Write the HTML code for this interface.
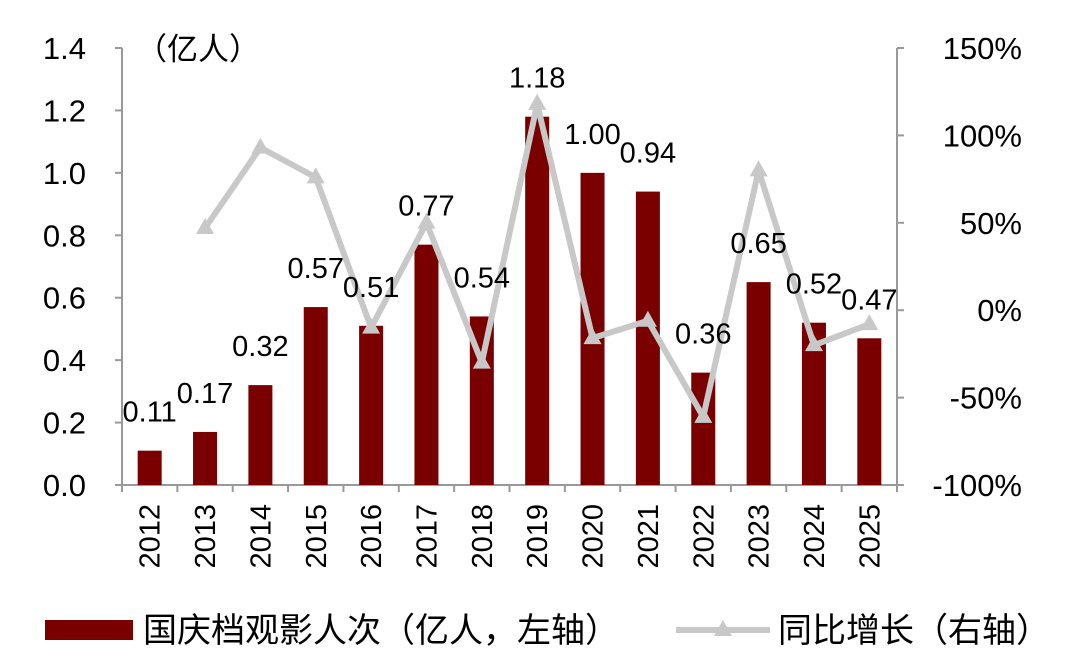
<!DOCTYPE html>
<html><head><meta charset="utf-8">
<style>
html,body{margin:0;padding:0;background:#fff;}
svg{display:block;font-family:"Liberation Sans","Noto Sans CJK SC",sans-serif;}
</style></head>
<body>
<svg id="chart" width="1080" height="668" viewBox="0 0 1080 668">
<text x="136" y="60" font-size="31" fill="#000">（亿人）</text>
<g id="axes"></g>
<g id="bars"></g>
<g id="line"></g>
<g id="labels"></g>
<g>
  <rect x="45" y="620" width="88" height="20" fill="#7a0000"></rect>
  <text x="143" y="642" font-size="34">国庆档观影人次（亿人，左轴）</text>
  <line x1="676" y1="630" x2="770" y2="630" stroke="#c8c8c8" stroke-width="6"></line>
  <polygon points="723,620 732,636 714,636" fill="#c8c8c8"></polygon>
  <text x="778" y="642" font-size="34">同比增长（右轴）</text>
</g>
</svg>
<script>
const categories=["2012","2013","2014","2015","2016","2017","2018","2019","2020","2021","2022","2023","2024","2025"];
const admissions=[0.11,0.17,0.32,0.57,0.51,0.77,0.54,1.18,1.00,0.94,0.36,0.65,0.52,0.47];
const growth=[null,47,93,76,-10,50,-30,118,-16,-6,-61,80,-20,-8];
const leftTicks=["0.0","0.2","0.4","0.6","0.8","1.0","1.2","1.4"];
const rightTicks=["-100%","-50%","0%","50%","100%","150%"];
const NS="http://www.w3.org/2000/svg";
const X0=122,X1=897,Y0=485,Y1=48;
const step=(X1-X0)/categories.length;
const xc=i=>X0+step*(i+0.5);
const yL=v=>Y0-(v/1.4)*(Y0-Y1);
const yR=v=>Y0-((v+100)/250)*(Y0-Y1);
function mk(tag,attrs,parent,text){const e=document.createElementNS(NS,tag);for(const k in attrs)e.setAttribute(k,attrs[k]);if(text!==undefined)e.textContent=text;document.getElementById(parent).appendChild(e);return e;}
const ax="axes",gc="#999";
let e;
e=mk("line",{x1:X0,y1:Y1,x2:X0,y2:Y0,stroke:gc,"stroke-width":2},ax);


e=mk("line",{x1:X1,y1:Y1,x2:X1,y2:Y0,stroke:gc,"stroke-width":2},ax);


e=mk("line",{x1:X0,y1:Y0,x2:X1,y2:Y0,stroke:gc,"stroke-width":2},ax);


leftTicks.forEach((t,i)=>{const y=yL(i*0.2);
 mk("line",{x1:X0-7,y1:y,x2:X0,y2:y,stroke:gc,"stroke-width":2},ax);
 e=mk("text",{x:86,y:y+11,"font-size":31,"text-anchor":"end"},ax,t);
 
 });
rightTicks.forEach((t,i)=>{const y=yR(-100+i*50);
 mk("line",{x1:X1,y1:y,x2:X1+7,y2:y,stroke:gc,"stroke-width":2},ax);
 e=mk("text",{x:1022,y:y+11,"font-size":31,"text-anchor":"end"},ax,t);
 
 });
for(let i=0;i<=categories.length;i++){const x=X0+step*i;mk("line",{x1:x,y1:Y0,x2:x,y2:Y0+7,stroke:gc,"stroke-width":2},ax);}
categories.forEach((c,i)=>{const x=xc(i);
 e=mk("text",{x:x+10,y:Y0+19,"font-size":29,"text-anchor":"end",transform:`rotate(-90 ${x+10} ${Y0+19})`},ax,c);
 
 });
admissions.forEach((v,i)=>{const x=xc(i),y=yL(v);
 e=mk("rect",{x:x-12,y:y,width:24,height:Y0-y,fill:"#7a0000"},"bars");
 
 });
const pts=[];growth.forEach((v,i)=>{if(v!==null)pts.push([xc(i),yR(v)]);});
e=mk("polyline",{points:pts.map(p=>p.join(",")).join(" "),fill:"none",stroke:"#c8c8c8","stroke-width":6,"stroke-linejoin":"round"},"line");


pts.forEach(p=>{e=mk("polygon",{points:`${p[0]},${p[1]-10} ${p[0]+9},${p[1]+6} ${p[0]-9},${p[1]+6}`,fill:"#c8c8c8"},"line");
 
 });
admissions.forEach((v,i)=>{
 e=mk("text",{x:xc(i),y:yL(v)-29,"font-size":29,"text-anchor":"middle"},"labels",v.toFixed(2));
 
 });
</script>
</body></html>
